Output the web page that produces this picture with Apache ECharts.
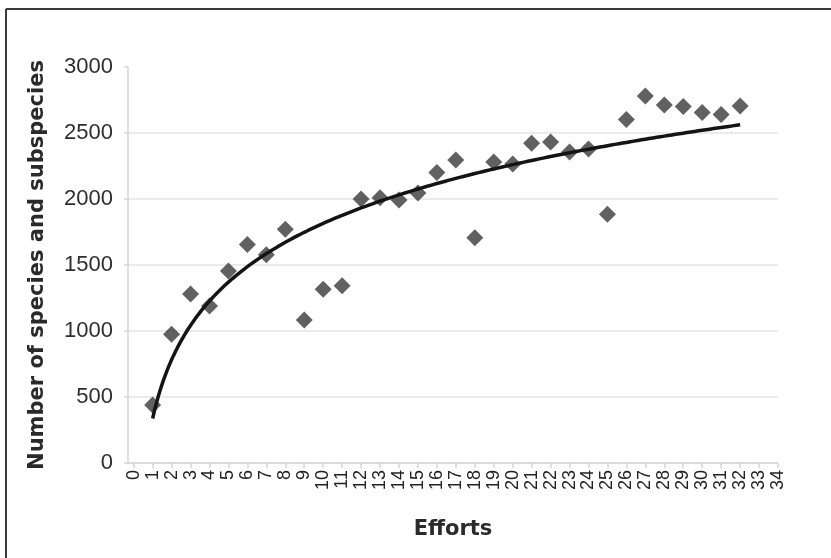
<!DOCTYPE html>
<html>
<head>
<meta charset="utf-8">
<script src="https://cdn.jsdelivr.net/npm/echarts@6/dist/echarts.min.js"></script>
<style>
html,body{margin:0;padding:0;background:#fff;}
#chart{width:831px;height:558px;}
</style>
</head>
<body>
<div id="chart"></div>
<script>
// Effort index (x) for each observation
const efforts = [1,2,3,4,5,6,7,8,9,10,11,12,13,14,15,16,17,18,19,20,21,22,23,24,25,26,27,28,29,30,31,32];
// Number of species and subspecies (y)
const species = [440,975,1280,1190,1455,1655,1578,1770,1083,1316,1342,2000,2010,1993,2045,2200,2295,1707,2280,2265,2422,2432,2357,2378,1884,2602,2780,2712,2700,2655,2640,2705];
// X axis tick labels
const xTicks = [0,1,2,3,4,5,6,7,8,9,10,11,12,13,14,15,16,17,18,19,20,21,22,23,24,25,26,27,28,29,30,31,32,33,34];
// Y axis ticks
const yTicks = [0,500,1000,1500,2000,2500,3000];

// Logarithmic least-squares trendline fitted to the data (y = a ln x + b)
const lx = efforts.map(v => Math.log(v));
const n = lx.length;
const mx = lx.reduce((s, v) => s + v, 0) / n;
const my = species.reduce((s, v) => s + v, 0) / n;
let sxy = 0, sxx = 0;
for (let i = 0; i < n; i++) { sxy += (lx[i] - mx) * (species[i] - my); sxx += (lx[i] - mx) * (lx[i] - mx); }
const a = sxy / sxx, b = my - a * mx;
const trend = [];
const x0 = efforts[0], x1 = efforts[efforts.length - 1];
for (let k = 0; k <= 310; k++) { const x = x0 + (x1 - x0) * k / 310; trend.push([x, a * Math.log(x) + b]); }

const chart = echarts.init(document.getElementById('chart'), null, {renderer: 'canvas'});
chart.setOption({
  backgroundColor: '#ffffff',
  animation: false,
  grid: {left: 128, right: 53, top: 67, bottom: 95, containLabel: false},
  xAxis: {
    type: 'value', min: -0.3, max: 34,
    name: 'Efforts', nameLocation: 'middle', nameGap: 56,
    nameTextStyle: {fontFamily: 'DejaVu Sans', fontWeight: 'bold', fontSize: 21, color: '#2a2a2a'},
    axisLine: {show: true, onZero: false, lineStyle: {color: '#d6d6d6', width: 1.5}},
    axisTick: {show: true, inside: false, length: 5, customValues: xTicks, lineStyle: {color: '#d6d6d6', width: 1.5}},
    axisLabel: {rotate: 90, margin: 7, customValues: xTicks, formatter: v => String(v), fontFamily: 'Liberation Sans', fontSize: 18, color: '#222'},
    splitLine: {show: false}
  },
  yAxis: {
    type: 'value', min: yTicks[0], max: yTicks[yTicks.length - 1], interval: 500,
    name: 'Number of species and subspecies', nameLocation: 'middle', nameGap: 80,
    nameTextStyle: {fontFamily: 'DejaVu Sans', fontWeight: 'bold', fontSize: 21, color: '#2a2a2a'},
    axisLine: {show: true, onZero: false, lineStyle: {color: '#d6d6d6', width: 1.5}},
    axisTick: {show: true, inside: false, length: 4, lineStyle: {color: '#d6d6d6', width: 1.5}},
    axisLabel: {margin: 15, formatter: v => String(v), fontFamily: 'Liberation Sans', fontSize: 22, color: '#2e2e2e'},
    splitLine: {show: true, showMaxLine: false, lineStyle: {color: '#e4e4e4', width: 1.5}}
  },
  series: [
    {
      type: 'scatter', z: 2,
      data: efforts.map((x, i) => [x, species[i]]),
      symbol: 'diamond', symbolSize: [17, 17],
      itemStyle: {color: '#3a3a3a'}
    },
    {
      type: 'line', z: 3, smooth: false, showSymbol: false, symbol: 'none',
      data: trend,
      lineStyle: {color: '#141414', width: 3.5}
    }
  ],
  graphic: [
    {type: 'line', shape: {x1: 6, y1: 9, x2: 831, y2: 9}, style: {stroke: '#3a3a3a', lineWidth: 2}},
    {type: 'line', shape: {x1: 6, y1: 9, x2: 6, y2: 558}, style: {stroke: '#3a3a3a', lineWidth: 2}}
  ]
});
</script>
</body>
</html>
